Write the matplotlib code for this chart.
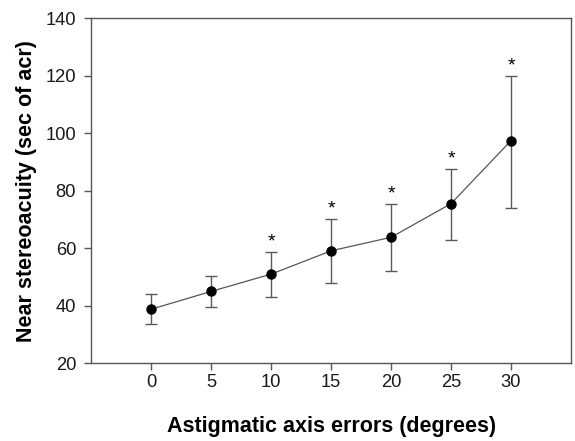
"""Near stereoacuity vs astigmatic axis error."""

import matplotlib.pyplot as plt

axis_errors = [0, 5, 10, 15, 20, 25, 30]
stereoacuity = [38.8, 45.0, 51.0, 59.1, 63.8, 75.5, 97.4]
err_upper = [44.0, 50.3, 58.8, 70.1, 75.4, 87.6, 120.0]
err_lower = [33.7, 39.7, 43.0, 47.8, 52.0, 63.0, 74.1]
significant = [False, False, True, True, True, True, True]

plt.rcParams["font.family"] = ["Liberation Sans", "DejaVu Sans"]

fig = plt.figure(figsize=(5.75, 4.41), dpi=100)
ax = fig.add_axes([0.1588, 0.1762, 0.8342, 0.7828])

yerr = [
    [m - lo for m, lo in zip(stereoacuity, err_lower)],
    [hi - m for m, hi in zip(stereoacuity, err_upper)],
]
ax.errorbar(
    axis_errors, stereoacuity, yerr=yerr, fmt="none",
    ecolor="#5a5a5a", elinewidth=1.0, capsize=4, capthick=1.0, zorder=2,
)
ax.plot(axis_errors, stereoacuity, color="#555555", linewidth=0.9, zorder=3)
ax.plot(axis_errors, stereoacuity, "o", color="black", markersize=6.5, zorder=4)

for x, hi, sig in zip(axis_errors, err_upper, significant):
    if sig:
        ax.annotate("*", (x, hi), xytext=(0, 1), textcoords="offset points",
                    ha="center", va="bottom", fontsize=14)

ax.set_xlim(-5, 35)
ax.set_ylim(20, 140)
ax.set_xticks(axis_errors)
ax.set_yticks(range(20, 141, 20))

for side in ax.spines.values():
    side.set_color("#555555")
    side.set_linewidth(1.0)
ax.tick_params(direction="out", length=5, width=1.0, color="#555555",
               labelsize=13.2, labelcolor="#1a1a1a")
ax.tick_params(axis="y", pad=6)
ax.tick_params(axis="x", pad=3)

ax.set_xlabel("Astigmatic axis errors (degrees)", fontsize=15.5,
              fontweight="bold", labelpad=18)
ax.set_ylabel("Near stereoacuity (sec of acr)", fontsize=15.5,
              fontweight="bold", labelpad=6)

fig.savefig("out.png", dpi=100)
